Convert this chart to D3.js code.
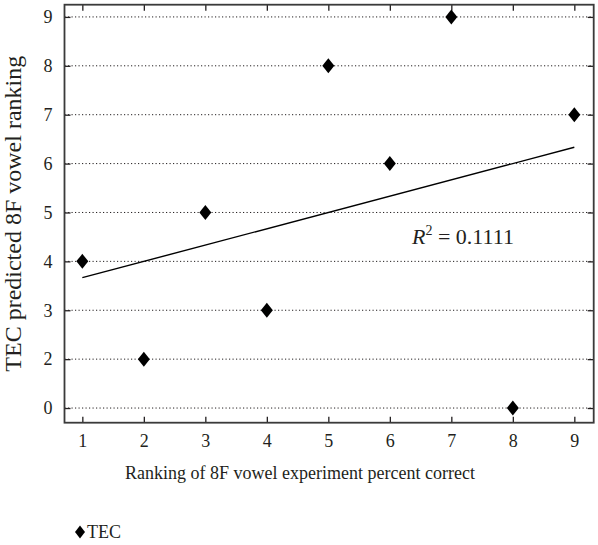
<!DOCTYPE html>
<html>
<head>
<meta charset="utf-8">
<script src="https://cdn.jsdelivr.net/npm/d3@7"></script>
<style>
  html, body { margin: 0; padding: 0; background: #fff; }
  svg { display: block; }
  text { font-family: "Liberation Serif", "DejaVu Serif", serif; fill: #231f20; }
</style>
</head>
<body>
<svg id="chart" width="598" height="545"></svg>
<script>
// Experiment ranking (x) against TEC predicted ranking (y)
const xRanks = [1, 2, 3, 4, 5, 6, 7, 8, 9];
const tecRanks = [4, 2, 5, 3, 8, 6, 9, 0, 7];
// Y axis categories, evenly spaced (no rank 1 occurs)
const yLabels = ["0", "2", "3", "4", "5", "6", "7", "8", "9"];
const xTicks = [1, 2, 3, 4, 5, 6, 7, 8, 9];
const seriesName = "TEC";
const r2Text = "0.1111";

const svg = d3.select("#chart");
const plot = { left: 64.5, right: 593.7, top: 4.7, bottom: 422.7 };
const ink = "#231f20";
const serif = '"Liberation Serif", "DejaVu Serif", serif';

const x = d3.scaleLinear().domain([0.71, 9.315]).range([plot.left, plot.right]);
// y is positioned by category index
const y = d3.scaleLinear().domain([-0.3, 8.25]).range([plot.bottom, plot.top]);
const yIndex = v => yLabels.indexOf(String(v));

// dotted horizontal grid
svg.append("g")
  .selectAll("line")
  .data(yLabels)
  .join("line")
  .attr("x1", plot.left)
  .attr("x2", plot.right)
  .attr("y1", (d, i) => y(i))
  .attr("y2", (d, i) => y(i))
  .attr("stroke", ink)
  .attr("stroke-width", 1)
  .attr("stroke-dasharray", "1.2,2.3");

// axes with inward ticks on all four sides
const tickLen = 6;
const bottomAxis = d3.axisBottom(x).tickValues(xTicks).tickSizeInner(-tickLen).tickSizeOuter(0).tickPadding(12).tickFormat(d3.format("d"));
const topAxis = d3.axisTop(x).tickValues(xTicks).tickSizeInner(-tickLen).tickSizeOuter(0).tickFormat("");
const leftAxis = d3.axisLeft(y).tickValues(d3.range(yLabels.length)).tickSizeInner(-tickLen).tickSizeOuter(0).tickPadding(12).tickFormat(i => yLabels[i]);
const rightAxis = d3.axisRight(y).tickValues(d3.range(yLabels.length)).tickSizeInner(-tickLen).tickSizeOuter(0).tickFormat("");

function styleAxis(g) {
  g.attr("font-family", serif).attr("font-size", 18);
  g.select(".domain").remove();
  g.selectAll(".tick line").attr("stroke", ink).attr("stroke-width", 1.3);
  g.selectAll(".tick text").attr("fill", ink);
}

svg.append("g").attr("transform", `translate(0,${plot.bottom})`).call(bottomAxis).call(styleAxis);
svg.append("g").attr("transform", `translate(0,${plot.top})`).call(topAxis).call(styleAxis);
svg.append("g").attr("transform", `translate(${plot.left},0)`).call(leftAxis).call(styleAxis);
svg.append("g").attr("transform", `translate(${plot.right},0)`).call(rightAxis).call(styleAxis);

// frame
svg.append("rect")
  .attr("x", plot.left).attr("y", plot.top)
  .attr("width", plot.right - plot.left).attr("height", plot.bottom - plot.top)
  .attr("fill", "none").attr("stroke", "#3a3a3a").attr("stroke-width", 1.8);

// least-squares fit in category-index space
const pts = xRanks.map((xv, i) => [xv, yIndex(tecRanks[i])]);
const mx = d3.mean(pts, p => p[0]);
const my = d3.mean(pts, p => p[1]);
const slope = d3.sum(pts, p => (p[0] - mx) * (p[1] - my)) / d3.sum(pts, p => (p[0] - mx) ** 2);
const icpt = my - slope * mx;
const xExt = d3.extent(xRanks);
svg.append("path")
  .datum(xExt.map(xv => [xv, icpt + slope * xv]))
  .attr("d", d3.line().x(d => x(d[0])).y(d => y(d[1])))
  .attr("fill", "none").attr("stroke", "#000").attr("stroke-width", 1.4);

// diamond markers
const diamond = (cx, cy, w, h) => `M${cx},${cy - h / 2}L${cx + w / 2},${cy}L${cx},${cy + h / 2}L${cx - w / 2},${cy}Z`;
svg.append("g")
  .selectAll("path")
  .data(pts)
  .join("path")
  .attr("d", p => diamond(x(p[0]), y(p[1]), 12, 15))
  .attr("fill", "#000");

// R² annotation
const r2 = svg.append("text")
  .attr("x", 412).attr("y", 244)
  .attr("font-size", 22);
r2.append("tspan").attr("font-style", "italic").text("R");
r2.append("tspan").attr("font-size", 14).attr("dy", -9).text("2");
r2.append("tspan").attr("dy", 9).text(" = " + r2Text);

// axis titles
svg.append("text")
  .attr("x", 300).attr("y", 479)
  .attr("text-anchor", "middle").attr("font-size", 18)
  .text("Ranking of 8F vowel experiment percent correct");

svg.append("text")
  .attr("transform", `translate(21,${(plot.top + plot.bottom) / 2}) rotate(-90)`)
  .attr("text-anchor", "middle").attr("font-size", 24)
  .text("TEC predicted 8F vowel ranking");

// legend
const lg = svg.append("g").attr("transform", "translate(80,532)");
lg.append("path").attr("d", diamond(0, 0, 10, 13)).attr("fill", "#000");
lg.append("text").attr("x", 7).attr("y", 6).attr("font-size", 18).text(seriesName);
</script>
</body>
</html>
